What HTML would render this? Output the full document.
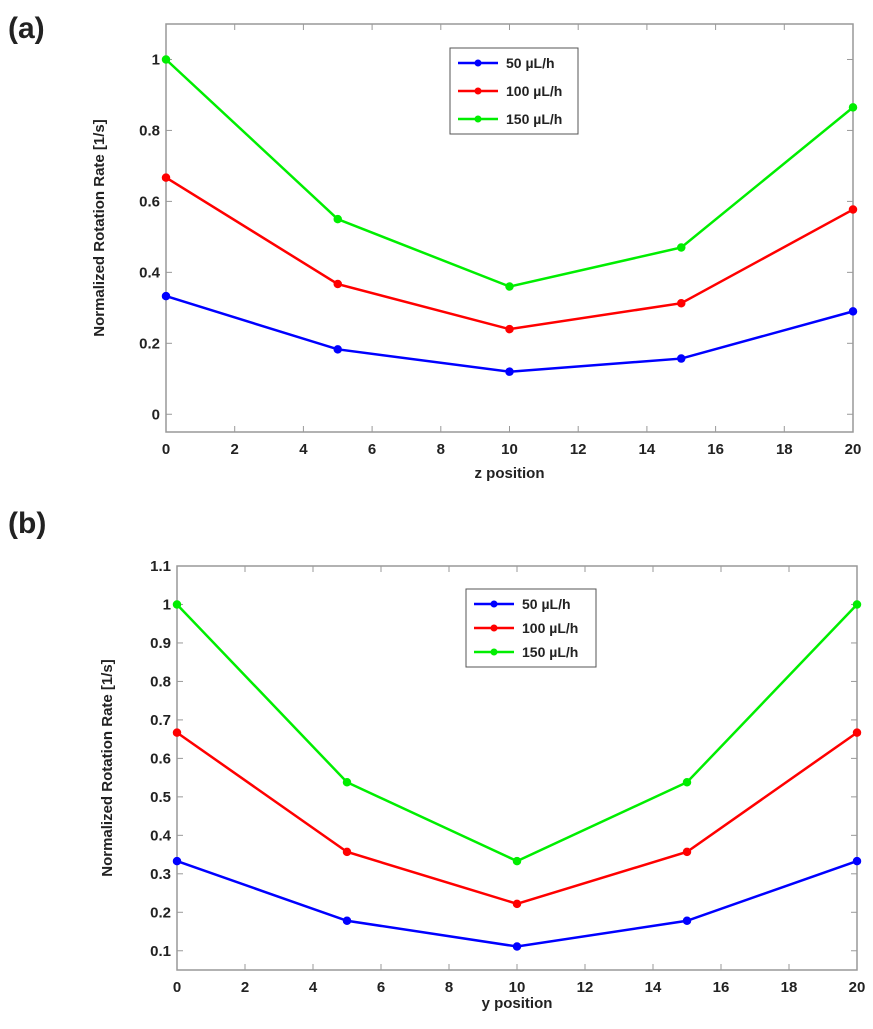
<!DOCTYPE html>
<html><head><meta charset="utf-8"><style>
body{margin:0;background:#fff;}
svg text{font-family:"Liberation Sans",Arial,sans-serif;font-weight:bold;fill:#222;}
</style></head><body>
<svg id="svg" width="873" height="1024" xmlns="http://www.w3.org/2000/svg">
<text x="8" y="38" font-size="30">(a)</text>
<text x="8" y="533" font-size="30">(b)</text>
</svg>
<script>
const xVals=[0,5,10,15,20];
const xTicks=[0,2,4,6,8,10,12,14,16,18,20];
const seriesNames=["50 µL/h","100 µL/h","150 µL/h"];
const colors=["#0000ff","#ff0000","#00ee00"];
const aBlue=[0.333,0.183,0.12,0.157,0.29];
const aRed=[0.667,0.367,0.24,0.313,0.577];
const aGreen=[1,0.55,0.36,0.47,0.865];
const aYTicks=[0,0.2,0.4,0.6,0.8,1];
const bBlue=[0.333,0.178,0.111,0.178,0.333];
const bRed=[0.667,0.357,0.222,0.357,0.667];
const bGreen=[1,0.538,0.333,0.538,1];
const bYTicks=[0.1,0.2,0.3,0.4,0.5,0.6,0.7,0.8,0.9,1,1.1];
const NS="http://www.w3.org/2000/svg";
const svg=document.getElementById('svg');
function mk(t,a,p){const e=document.createElementNS(NS,t);for(const k in a)e.setAttribute(k,a[k]);(p||svg).appendChild(e);return e;}
function panel(id,L,R,T,B,ymin,ymax,yTicks,series,xTitle,ttlY,yTitleX,leg){
 const g=mk('g',{});
 
 
 const sx=v=>L+(v-0)/(20-0)*(R-L);
 const sy=v=>B-(v-ymin)/(ymax-ymin)*(B-T);
 const box=mk('rect',{x:L,y:T,width:R-L,height:B-T,fill:'none',stroke:'#999','stroke-width':1.5},g);
 
 
 xTicks.forEach(t=>{const x=sx(t);
  mk('line',{x1:x,x2:x,y1:B,y2:B-6,stroke:'#999'},g);
  mk('line',{x1:x,x2:x,y1:T,y2:T+6,stroke:'#999'},g);
  const tx=mk('text',{x:x,y:B+22,'font-size':15,'text-anchor':'middle'},g);tx.textContent=t;
  
  });
 yTicks.forEach(t=>{const y=sy(t);
  mk('line',{x1:L,x2:L+6,y1:y,y2:y,stroke:'#999'},g);
  mk('line',{x1:R,x2:R-6,y1:y,y2:y,stroke:'#999'},g);
  const tx=mk('text',{x:L-6,y:y+5,'font-size':15,'text-anchor':'end'},g);tx.textContent=+t.toFixed(1);
  
  });
 series.forEach((s,i)=>{
  const pl=mk('polyline',{points:s.map((v,j)=>sx(xVals[j])+','+sy(v)).join(' '),fill:'none',stroke:colors[i],'stroke-width':2.5},g);
  
  
  s.forEach((v,j)=>{const c=mk('circle',{cx:sx(xVals[j]),cy:sy(v),r:3.5,fill:colors[i],stroke:colors[i],'stroke-width':1.5},g);
   
   });
 });
 const xt=mk('text',{x:(L+R)/2,y:ttlY,'font-size':15,'text-anchor':'middle'},g);xt.textContent=xTitle;
 
 
 const yc=(T+B)/2;
 const yt=mk('text',{x:yTitleX,y:yc,'font-size':15,'text-anchor':'middle',transform:`rotate(-90 ${yTitleX} ${yc})`},g);yt.textContent='Normalized Rotation Rate [1/s]';
 
 
 const lg=mk('g',{},g);
 
 
 mk('rect',{x:leg[0],y:leg[1],width:leg[2],height:leg[3],fill:'#fff',stroke:'#555','stroke-width':1},lg);
 seriesNames.forEach((n,i)=>{const y=leg[1]+15+i*(leg[3]-30)/2;
  mk('line',{x1:leg[0]+8,x2:leg[0]+48,y1:y,y2:y,stroke:colors[i],'stroke-width':2.5},lg);
  mk('circle',{cx:leg[0]+28,cy:y,r:3.5,fill:colors[i]},lg);
  const t=mk('text',{x:leg[0]+56,y:y+5,'font-size':14},lg);t.textContent=n;
  
  });
}
panel('chart-a',166,853,24,432,-0.05,1.1,aYTicks,[aBlue,aRed,aGreen],'z position',478,104,[450,48,128,86]);
panel('chart-b',177,857,566,970,0.05,1.1,bYTicks,[bBlue,bRed,bGreen],'y position',1008,112,[466,589,130,78]);
</script>
</body></html>
